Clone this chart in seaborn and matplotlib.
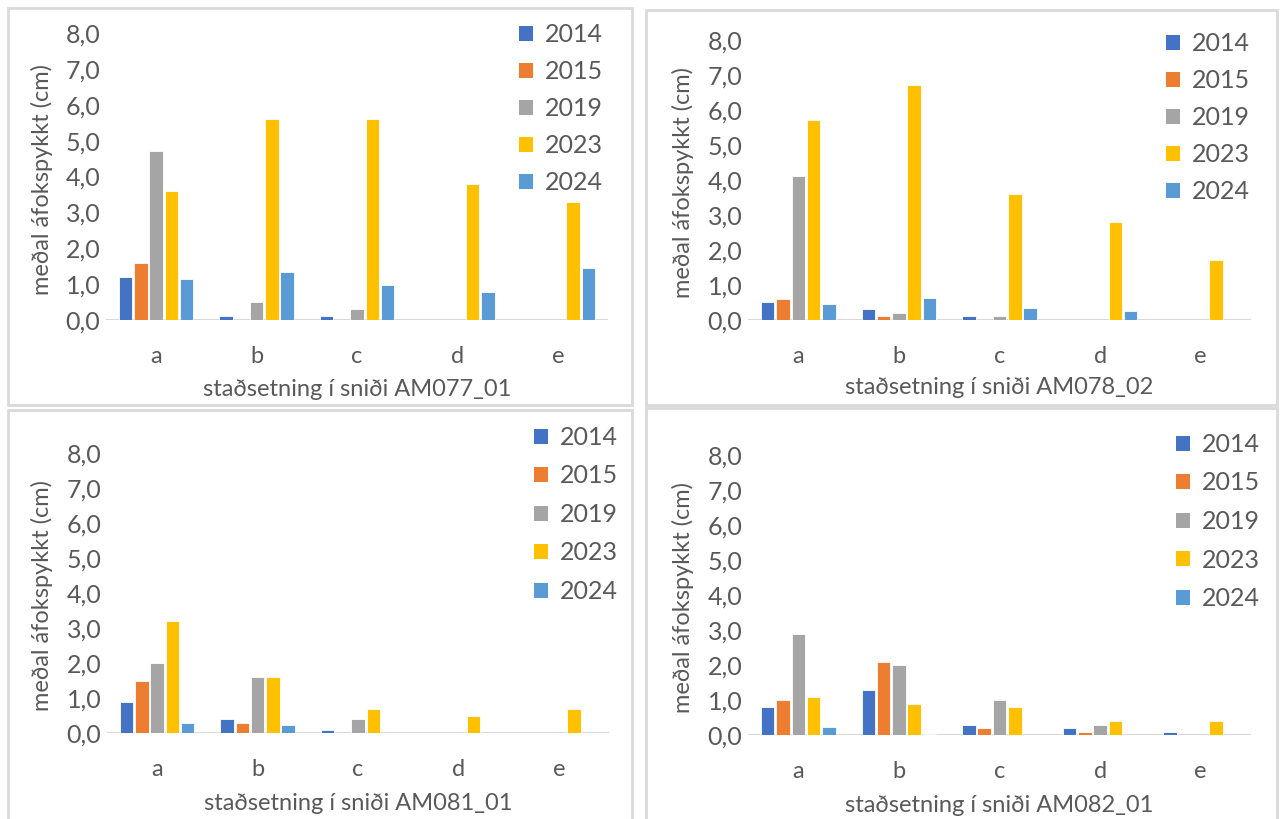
import matplotlib
matplotlib.use("Agg")
import matplotlib.pyplot as plt
import seaborn as sns
import pandas as pd
from matplotlib.patches import Rectangle
from matplotlib.ticker import FuncFormatter

sns.set_theme(style="white")
plt.rcParams['font.family'] = ['Lato', 'DejaVu Sans']

positions = ["a", "b", "c", "d", "e"]
years = ["2014", "2015", "2019", "2023", "2024"]
colors = ["#4472C4", "#ED7D31", "#A5A5A5", "#FFC000", "#5B9BD5"]

am077_01 = {
    "2014": [1.2, 0.1, 0.1, 0.0, 0.0],
    "2015": [1.6, 0.0, 0.0, 0.0, 0.0],
    "2019": [4.7, 0.5, 0.3, 0.0, 0.0],
    "2023": [3.6, 5.6, 5.6, 3.8, 3.3],
    "2024": [1.15, 1.35, 0.98, 0.78, 1.45],
}
am078_02 = {
    "2014": [0.5, 0.3, 0.1, 0.0, 0.0],
    "2015": [0.6, 0.1, 0.0, 0.0, 0.0],
    "2019": [4.1, 0.2, 0.1, 0.0, 0.0],
    "2023": [5.7, 6.7, 3.6, 2.8, 1.7],
    "2024": [0.45, 0.63, 0.35, 0.27, 0.0],
}
am081_01 = {
    "2014": [0.9, 0.4, 0.1, 0.0, 0.0],
    "2015": [1.5, 0.3, 0.0, 0.0, 0.0],
    "2019": [2.0, 1.6, 0.4, 0.0, 0.0],
    "2023": [3.2, 1.6, 0.7, 0.5, 0.7],
    "2024": [0.3, 0.22, 0.0, 0.0, 0.0],
}
am082_01 = {
    "2014": [0.8, 1.3, 0.3, 0.2, 0.1],
    "2015": [1.0, 2.1, 0.2, 0.1, 0.0],
    "2019": [2.9, 2.0, 1.0, 0.3, 0.0],
    "2023": [1.1, 0.9, 0.8, 0.4, 0.4],
    "2024": [0.22, 0.02, 0.0, 0.0, 0.0],
}

panels = [
    ("AM077_01", am077_01),
    ("AM078_02", am078_02),
    ("AM081_01", am081_01),
    ("AM082_01", am082_01),
]

W, H = 1280, 819
fig = plt.figure(figsize=(12.8, 8.19), dpi=100)

def fx(px):
    return px / W

def fy(py):
    return 1 - py / H

# axes rects in pixels: (left, right, top(8.0), bottom(0.0))
ax_px = [
    (106, 608, 33, 320),
    (748, 1251, 40, 320),
    (107, 609, 453, 733),
    (748, 1251, 455, 735),
]
frames_px = [
    (8, 632, 8, 405),
    (646, 1277, 10, 405),
    (8, 632, 410, 830),
    (646, 1277, 408, 830),
]
# legend upper-left anchor (patch left x, top y)
legend_anchor_px = [
    (514, 18),
    (1161, 27),
    (529, 421),
    (1171, 428),
]
legend_spacing = [0.56, 0.56, 0.62, 0.62]
# y label center x, x label center y (pixels)
ylab_x = [42, 683, 42, 683]
xlab_y = [390, 388, 803, 805]

for (x0, x1, y0, y1) in frames_px:
    fig.patches.append(Rectangle((fx(x0), fy(y1)), fx(x1 - x0), (y1 - y0) / H,
                                 transform=fig.transFigure, fill=False,
                                 edgecolor="#D9D9D9", linewidth=2, zorder=0))

txt = "#595959"
for i, (name, data) in enumerate(panels):
    l, r, t, b = ax_px[i]
    ax = fig.add_axes([fx(l), fy(b), fx(r - l), (b - t) / H])
    rows = []
    for y in years:
        for p, v in zip(positions, data[y]):
            rows.append({"pos": p, "val": v, "year": y})
    df = pd.DataFrame(rows)
    sns.barplot(data=df, x="pos", y="val", hue="year", order=positions,
                hue_order=years, palette=colors, saturation=1, width=0.76, gap=0.12,
                edgecolor="white", linewidth=0.6, ax=ax)
    ax.set_xlim(-0.5, 4.5)
    ax.set_ylim(0, 8)
    ax.set_yticks(range(0, 9))
    ax.yaxis.set_major_formatter(FuncFormatter(lambda v, p: f"{v:.1f}".replace(".", ",")))
    for s in ax.spines.values():
        s.set_visible(False)
    ax.axhline(0, color="#D9D9D9", linewidth=1.5, zorder=0.5)
    ax.tick_params(axis="both", length=0, labelsize=17, colors=txt)
    ax.tick_params(axis="y", labelsize=18, pad=4)
    ax.tick_params(axis="x", pad=19)
    ax.set_xlabel(f"staðsetning í sniði {name}", fontsize=17, color=txt)
    ax.set_ylabel("meðal áfokspykkt (cm)", fontsize=17, color=txt)
    ax.xaxis.set_label_coords(0.5, -(xlab_y[i] - b) / (b - t))
    ax.xaxis.label.set_va("center")
    ax.yaxis.set_label_coords((ylab_x[i] - l) / (r - l), 0.49)
    ax.yaxis.label.set_va("center")
    ax.patch.set_alpha(0)
    ax.grid(False)
    if ax.get_legend() is not None:
        ax.get_legend().remove()
    handles = [Rectangle((0, 0), 1, 1, facecolor=c, edgecolor="none") for c in colors]
    axp, ayp = legend_anchor_px[i]
    ax.legend(handles, years, loc="upper left",
              bbox_to_anchor=(fx(axp), fy(ayp)), bbox_transform=fig.transFigure,
              frameon=False, fontsize=18, labelcolor=txt,
              handlelength=0.55, handleheight=0.55, handletextpad=0.5,
              labelspacing=legend_spacing[i], borderpad=0.2, borderaxespad=0)

fig.savefig("out.png", dpi=100)
